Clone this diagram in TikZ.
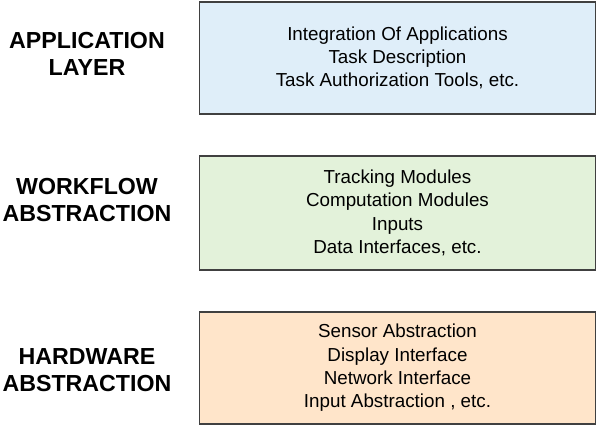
\documentclass[tikz,border=0pt]{standalone}
\usepackage{fontspec}
\setmainfont{Liberation Sans}
\usepackage{xcolor}
\usepackage{tikz}
\definecolor{LayerBlue}{HTML}{DFEEF9}
\definecolor{LayerGreen}{HTML}{E3F2DA}
\definecolor{LayerOrange}{HTML}{FFE5CA}
\definecolor{BoxBorder}{HTML}{404040}
\tikzset{
  layer/.style={
    draw=BoxBorder,
    line width=1.3bp,
    inner sep=0pt,
    align=center,
    minimum width=396bp,
    minimum height=112bp,
    font=\fontsize{18.8bp}{23.3bp}\selectfont
  },
  title/.style={
    align=center,
    inner sep=0pt,
    font=\bfseries\fontsize{23.2bp}{27.6bp}\selectfont
  }
}

\begin{document}
\begin{tikzpicture}[x=1bp,y=-1bp]

  \useasboundingbox (0,0) rectangle (597,427);

  \node[
    layer,
    fill=LayerBlue
  ] at (397.5,58) (application) {
    Integration Of Applications\\
    Task Description\\
    Task Authorization Tools, etc.
  };

  \node[
    layer,
    fill=LayerGreen,
    minimum height=114bp
  ] at (397.5,213) (workflow) {
    Tracking Modules\\
    Computation Modules\\
    Inputs\\
    Data Interfaces, etc.
  };

  \node[
    layer,
    fill=LayerOrange
  ] at (397.5,368) (hardware) {
    Sensor Abstraction\\
    Display Interface\\
    Network Interface\\
    Input Abstraction , etc.
  };

  \node[title] at (87,54) (applicationtitle) {
    APPLICATION\\
    LAYER
  };

  \node[title] at (87,200) (workflowtitle) {
    WORKFLOW\\
    ABSTRACTION
  };

  \node[title] at (87,370) (hardwaretitle) {
    HARDWARE\\
    ABSTRACTION
  };

\end{tikzpicture}
\end{document}
